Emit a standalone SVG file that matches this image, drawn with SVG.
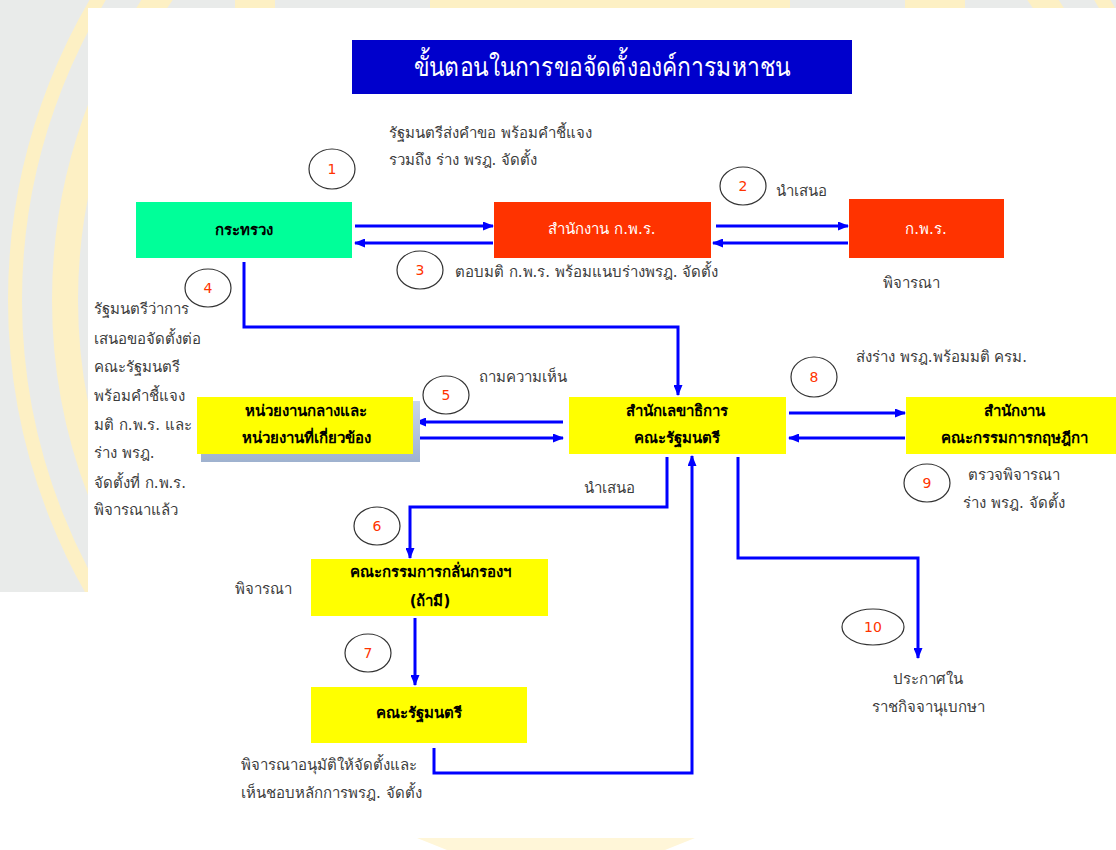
<svg xmlns="http://www.w3.org/2000/svg" width="1116" height="850" viewBox="0 0 1116 850">
<style>
.t{font-family:Tahoma,"DejaVu Sans","Noto Sans",sans-serif;font-size:15px;fill:#3c3c3c}
.m{text-anchor:middle}
.b{font-weight:bold;fill:#000;text-anchor:middle}
.w{fill:#fff;text-anchor:middle}
.n{fill:#ff3300;text-anchor:middle;font-size:14px}
.c{fill:none;stroke:#0000ff;stroke-width:3}
.e{fill:none;stroke:#333;stroke-width:1.2}
.y{fill:#ffff00}
.r{fill:#ff3300}
</style>
<defs>
<marker id="ah" markerWidth="11" markerHeight="9" refX="10" refY="4.5" orient="auto" markerUnits="userSpaceOnUse"><path d="M0,0 L11,4.5 L0,9 z" fill="#0000ff"/></marker>
<clipPath id="band"><rect x="0" y="0" width="1116" height="8"/><rect x="0" y="0" width="88" height="592"/></clipPath>
<linearGradient id="sh" x1="0" y1="0" x2="0" y2="1"><stop offset="0" stop-color="#c9d6ea"/><stop offset="1" stop-color="#9fb2cf"/></linearGradient>
</defs>
<g id="background">
<rect width="1116" height="850" fill="#fff"/>
<g clip-path="url(#band)">
<rect width="1116" height="850" fill="#e9ebea"/>
<circle cx="600" cy="300" r="535" fill="none" stroke="#fdf0c4" stroke-width="26"/>
<circle cx="600" cy="300" r="585" fill="none" stroke="#fdf0c4" stroke-width="14"/>
<rect x="430" y="0" width="360" height="8" fill="#fdf0c4"/>
<rect x="235" y="0" width="40" height="8" fill="#fdf0c4"/>
<rect x="905" y="0" width="60" height="8" fill="#fdf0c4"/>
</g>
<polygon points="417,838 695,838 665,850 447,850" fill="#fff6d8"/>
</g>
<g id="title">
<rect x="352" y="40" width="500" height="54" fill="#0000cc"/>
<text class="t w" x="602" y="76" style="font-size:27px" textLength="376" lengthAdjust="spacingAndGlyphs">ขั้นตอนในการขอจัดตั้งองค์การมหาชน</text>
</g>
<g id="connectors">
<path class="c" d="M355,226 H493" marker-end="url(#ah)"/>
<path class="c" d="M493,243 H355" marker-end="url(#ah)"/>
<path class="c" d="M716,226 H848" marker-end="url(#ah)"/>
<path class="c" d="M848,243 H713" marker-end="url(#ah)"/>
<path class="c" d="M244,262 V327 H678 V395" marker-end="url(#ah)"/>
<path class="c" d="M563,422 H416" marker-end="url(#ah)"/>
<path class="c" d="M416,438 H563" marker-end="url(#ah)"/>
<path class="c" d="M789,413 H905" marker-end="url(#ah)"/>
<path class="c" d="M905,438 H789" marker-end="url(#ah)"/>
<path class="c" d="M667,457 V507 H410 V558" marker-end="url(#ah)"/>
<path class="c" d="M415,618 V685" marker-end="url(#ah)"/>
<path class="c" d="M434,748 V773 H692 V456" marker-end="url(#ah)"/>
<path class="c" d="M738,457 V558 H918 V658" marker-end="url(#ah)"/>
</g>
<g id="n-ministry">
<rect x="136" y="202" width="216" height="56" fill="#00ff99"/>
<text class="t b" x="244" y="235">กระทรวง</text>
</g>
<g id="n-opdc-office">
<rect class="r" x="494" y="202" width="217" height="56"/>
<text class="t w" x="602" y="234">สำนักงาน ก.พ.ร.</text>
</g>
<g id="n-opdc">
<rect class="r" x="849" y="199" width="155" height="59"/>
<text class="t w" x="926" y="234">ก.พ.ร.</text>
</g>
<g id="n-agencies">
<rect x="201" y="401" width="219" height="61" fill="url(#sh)"/>
<rect class="y" x="197" y="397" width="216" height="57"/>
<text class="t b" x="306" y="416">หน่วยงานกลางและ</text>
<text class="t b" x="306" y="443">หน่วยงานที่เกี่ยวข้อง</text>
</g>
<g id="n-secretariat">
<rect class="y" x="569" y="397" width="217" height="57"/>
<text class="t b" x="677" y="416">สำนักเลขาธิการ</text>
<text class="t b" x="677" y="443">คณะรัฐมนตรี</text>
</g>
<g id="n-council-state">
<rect class="y" x="906" y="397" width="210" height="57"/>
<text class="t b" x="1014" y="416">สำนักงาน</text>
<text class="t b" x="1014" y="443">คณะกรรมการกฤษฎีกา</text>
</g>
<g id="n-screening">
<rect class="y" x="311" y="559" width="237" height="57"/>
<text class="t b" x="430" y="577">คณะกรรมการกลั่นกรองฯ</text>
<text class="t b" x="430" y="606">(ถ้ามี)</text>
</g>
<g id="n-cabinet">
<rect class="y" x="311" y="687" width="216" height="56"/>
<text class="t b" x="419" y="718">คณะรัฐมนตรี</text>
</g>
<g id="steps">
<ellipse class="e" cx="332" cy="169" rx="23" ry="20"/><text class="t n" x="332" y="174">1</text>
<ellipse class="e" cx="743" cy="186" rx="23" ry="19"/><text class="t n" x="743" y="191">2</text>
<ellipse class="e" cx="420" cy="270" rx="23" ry="19"/><text class="t n" x="420" y="275">3</text>
<ellipse class="e" cx="208" cy="288" rx="23" ry="19"/><text class="t n" x="208" y="293">4</text>
<ellipse class="e" cx="446" cy="395" rx="23" ry="19"/><text class="t n" x="446" y="400">5</text>
<ellipse class="e" cx="377" cy="526" rx="23" ry="19"/><text class="t n" x="377" y="531">6</text>
<ellipse class="e" cx="368" cy="653" rx="23" ry="19"/><text class="t n" x="368" y="658">7</text>
<ellipse class="e" cx="814" cy="377" rx="23" ry="20"/><text class="t n" x="814" y="382">8</text>
<ellipse class="e" cx="927" cy="483" rx="23" ry="19"/><text class="t n" x="927" y="488">9</text>
<ellipse class="e" cx="873" cy="627" rx="31" ry="18"/><text class="t n" x="873" y="632">10</text>
</g>
<g id="labels">
<text class="t" x="389" y="138">รัฐมนตรีส่งคำขอ พร้อมคำชี้แจง</text>
<text class="t" x="389" y="165">รวมถึง ร่าง พรฎ. จัดตั้ง</text>
<text class="t" x="776" y="196">นำเสนอ</text>
<text class="t" x="883" y="288">พิจารณา</text>
<text class="t" x="455" y="277">ตอบมติ ก.พ.ร. พร้อมแนบร่างพรฎ. จัดตั้ง</text>
<text class="t" x="94" y="314">รัฐมนตรีว่าการ</text>
<text class="t" x="94" y="344">เสนอขอจัดตั้งต่อ</text>
<text class="t" x="94" y="372">คณะรัฐมนตรี</text>
<text class="t" x="94" y="401">พร้อมคำชี้แจง</text>
<text class="t" x="94" y="430">มติ ก.พ.ร. และ</text>
<text class="t" x="94" y="458">ร่าง พรฎ.</text>
<text class="t" x="94" y="488">จัดตั้งที่ ก.พ.ร.</text>
<text class="t" x="94" y="515">พิจารณาแล้ว</text>
<text class="t" x="479" y="382">ถามความเห็น</text>
<text class="t" x="856" y="362">ส่งร่าง พรฎ.พร้อมมติ ครม.</text>
<text class="t m" x="1014" y="480">ตรวจพิจารณา</text>
<text class="t m" x="1014" y="508">ร่าง พรฎ. จัดตั้ง</text>
<text class="t" x="584" y="493">นำเสนอ</text>
<text class="t" x="235" y="594">พิจารณา</text>
<text class="t" x="241" y="770">พิจารณาอนุมัติให้จัดตั้งและ</text>
<text class="t" x="241" y="798">เห็นชอบหลักการพรฎ. จัดตั้ง</text>
<text class="t m" x="928" y="684">ประกาศใน</text>
<text class="t m" x="928" y="712">ราชกิจจานุเบกษา</text>
</g>
</svg>
